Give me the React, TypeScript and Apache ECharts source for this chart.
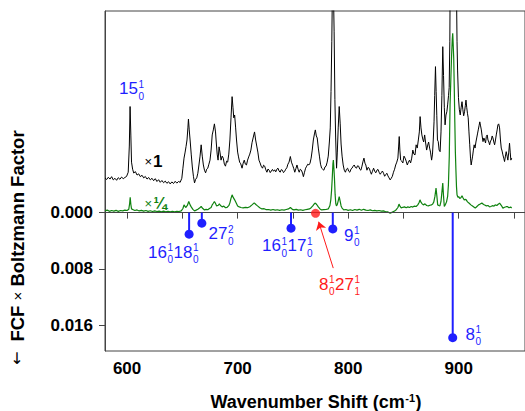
import React, { useEffect, useRef } from "react";
import * as echarts from "echarts";

// ---------- data ----------
const xTicks = [600, 650, 700, 750, 800, 850, 900, 950];
const xTickLabels = [600, 700, 800, 900];
const yTickLabels = [0, 0.008, 0.016];

// ×1 trace (relative intensity, arbitrary units)
const traceX1: [number, number][] = [
  [580, 17.2], [581.5, 16.4], [583, 17.5], [584.5, 16.6], [586, 17.8], [587.5, 16.2], [589, 17.0], [590.5, 16.0],
  [592, 17.3], [593.5, 16.5], [595, 17.6], [596.5, 16.8], [598, 17.4], [599.5, 17.9], [601, 20], [602, 33],
  [602.7, 52.6], [603.4, 38], [604, 25], [605, 21.5], [606, 19.6], [607.5, 20.3], [609, 18.6], [610.5, 19.2],
  [612, 17.8], [613.5, 18.5], [615, 17.2], [616.5, 17.9], [618, 16.6], [619.5, 17.4], [621, 16.2], [622.5, 17.0],
  [624, 15.8], [625.5, 16.8], [627, 15.4], [628.5, 16.3], [630, 15.0], [631.5, 15.9], [633, 14.8], [634.5, 15.6],
  [636, 14.5], [637.5, 15.3], [639, 14.2], [640.5, 15.2], [642, 14.4], [643.5, 15.5], [645, 14.6], [646.5, 15.4],
  [648, 15.0], [649.5, 17], [650.5, 22], [651.5, 27], [652.5, 30], [653.3, 32.7], [654.2, 36], [655, 42],
  [655.5, 46.4], [656.2, 41], [657, 36], [658, 29], [659, 22.6], [660, 18], [661, 14.7], [662, 16.5],
  [663, 17.2], [664, 19.5], [665, 23.6], [666, 28], [667, 33.6], [668, 28], [669, 23.6], [670, 21],
  [671, 19.7], [672, 21.5], [673, 22], [674, 24], [675, 26], [676, 31], [677, 38.5], [678, 41],
  [679, 44], [680, 40], [680.5, 36], [681.5, 29], [682.3, 26], [683.2, 32.6], [684, 30], [685, 26],
  [686, 28], [687, 27], [688, 24], [689, 23], [690, 25.5], [691, 25], [692, 29], [693, 36],
  [694, 47], [695, 57.5], [695.8, 52], [696.5, 47], [697.3, 48.4], [698.2, 42], [699, 36], [700, 30],
  [700.8, 27.6], [701.8, 25], [702.8, 24.2], [704, 22], [705, 24.5], [706, 26], [707, 24], [708, 23.6],
  [709, 26], [710, 27.6], [711, 29], [712, 31], [713, 34.6], [714, 37], [715.3, 40], [716.3, 36],
  [717.3, 33], [718.3, 30], [719.3, 26], [720.3, 24.6], [721.3, 23], [722.5, 22], [723.5, 23.5], [724.5, 23],
  [725.5, 21.2], [726.5, 20], [727.5, 21.6], [728.5, 21], [729.5, 19.8], [730.5, 20.6], [731.5, 21.4], [732.5, 20.5],
  [733.5, 21.2], [734.5, 20.2], [735.5, 21.5], [736.5, 22], [737.5, 20.6], [738.5, 20], [739.5, 21.3], [740.5, 21],
  [741.5, 19.8], [742.5, 20.4], [743.5, 21.5], [744.5, 22.2], [745.5, 24], [746.5, 25], [747.7, 27.8], [748.7, 25],
  [749.7, 23.5], [750.7, 22], [751.7, 20], [752.7, 21.8], [753.7, 23.6], [754.7, 21.5], [755.7, 20], [756.7, 21.5],
  [757.7, 21], [758.7, 19.6], [759.5, 17.8], [760.5, 20], [761.5, 22], [762.5, 23], [763.5, 24], [764.5, 23.6],
  [765.5, 24.5], [766.5, 27], [767.5, 31], [768.5, 36], [769.5, 39], [770.3, 41], [771.2, 38], [772, 37],
  [773, 32], [774, 28], [775, 24], [776, 22], [777, 21.5], [778, 21], [779, 22.6], [780, 23],
  [781, 25], [782, 28], [783, 35], [783.8, 42], [784.5, 60], [785.2, 85], [785.9, 118], [786.6, 112],
  [787.3, 90], [788, 56], [788.7, 37], [789.5, 22], [790.2, 30], [791, 42], [791.9, 52.6], [792.8, 44],
  [793.6, 34], [794.5, 28], [795.5, 23.6], [796.5, 21], [797.5, 20], [798.5, 21.5], [799.5, 22], [800.5, 20.5],
  [801.5, 20], [802.5, 21.5], [803.5, 22], [804.5, 23], [805.5, 23.6], [806.5, 22.4], [807.5, 22], [808.5, 23.2],
  [809.5, 23], [810.5, 21.5], [811.5, 21], [812.5, 23], [813.5, 25.5], [814.3, 27], [815.2, 24.5], [816, 23.6],
  [817, 21], [818, 22.4], [819, 22], [820, 20.5], [821, 19], [822, 20.5], [823, 22], [824, 20.5],
  [825, 19.7], [826, 21], [827, 21.4], [828, 20], [829, 19], [830, 19.8], [831, 20.6], [832, 19.5],
  [833, 18], [834, 18.8], [835, 19.5], [836, 18.2], [837, 17.2], [838, 16.2], [839, 17], [840, 18],
  [841, 20], [842, 21.5], [843, 23.6], [844, 25], [845, 27], [845.7, 33], [846.2, 37.7], [846.8, 31],
  [847.5, 26], [848.5, 25.5], [849.5, 24.6], [850.5, 28], [851.5, 27], [852.5, 25.5], [853.5, 23.6], [854.5, 25],
  [855.5, 26], [856.5, 24.6], [857.5, 27], [858.5, 31], [859.5, 29], [860.5, 28.6], [861.5, 33.6], [862.5, 32],
  [863.5, 36], [864.4, 40], [865.1, 47.6], [865.9, 42], [866.7, 38.5], [867.5, 36.5], [868.3, 35], [869.2, 38.5],
  [870, 35], [871, 31], [872, 33.5], [872.8, 35], [873.7, 32], [874.5, 30], [875.5, 26], [876.3, 29],
  [877, 36], [877.7, 45], [878.3, 58], [879, 72.4], [879.6, 60], [880.2, 48], [880.8, 36], [881.5, 35.2],
  [882.3, 31], [883.2, 30.2], [884, 40], [884.8, 58], [885.6, 82.3], [886.3, 68], [887, 52], [887.7, 43.5],
  [888.5, 48.4], [889.3, 50], [890, 53.4], [890.8, 58], [891.4, 62], [892, 85], [892.6, 150], [893.3, 250],
  [894, 340], [894.6, 370], [895.3, 345], [896, 280], [896.7, 200], [897.4, 150], [898, 110], [898.5, 85],
  [899, 70.7], [899.8, 57], [900.6, 51], [901.4, 48.4], [902.2, 52], [903, 55], [903.8, 51], [904.5, 48],
  [905.3, 50], [906, 53], [906.6, 55.8], [907.3, 52], [908, 49], [908.6, 47], [909.3, 40], [910, 33.6],
  [910.7, 27], [911.3, 23.6], [912, 26], [912.6, 28], [913.3, 31], [914, 33.6], [914.8, 32], [915.6, 35],
  [916.3, 37], [917, 39], [917.7, 41], [918.4, 43], [919.1, 45], [919.8, 43], [920.5, 41], [921.2, 38],
  [922, 35.2], [922.8, 37], [923.5, 36], [924.3, 34.5], [925, 37.7], [925.8, 38.5], [926.5, 36], [927.3, 35],
  [928, 33.6], [928.8, 35.5], [929.5, 36], [930.3, 38], [931, 37], [931.8, 35], [932.5, 33.6], [933.3, 36],
  [934, 38.5], [934.8, 41], [935.5, 43.5], [936.2, 44], [937, 42], [937.8, 36], [938.5, 32], [939.3, 30.5],
  [940, 28.6], [940.8, 27], [941.5, 25.3], [942.3, 28], [943, 30.2], [943.8, 28], [944.5, 26], [945.3, 30],
  [946, 34.4], [946.6, 30], [947.2, 26], [948, 27],
];

// ×¼ trace
const traceQuarter: [number, number][] = [
  [580, 0.8], [582, 1.2], [584, 0.6], [586, 1.0], [588, 0.7], [590, 1.1], [592, 0.6], [594, 1.0],
  [596, 0.8], [598, 1.2], [600, 1.0], [601.5, 1.6], [602.3, 4.5], [602.8, 7.6], [603.4, 4], [604, 1.8],
  [605.5, 1.4], [607, 1.0], [609, 1.3], [611, 0.8], [613, 1.1], [615, 0.7], [617, 1.0], [619, 0.6],
  [621, 0.9], [623, 0.5], [625, 0.8], [627, 0.5], [629, 0.7], [631, 0.4], [633, 0.7], [635, 0.4],
  [637, 0.6], [639, 0.3], [641, 0.6], [643, 0.4], [645, 0.6], [647, 0.5], [649, 0.8], [650.5, 2],
  [651.5, 3.8], [653, 2.5], [654.5, 3.5], [655.8, 5.5], [657, 3.8], [658, 2.8], [659.5, 1.6], [661, 0.8],
  [662.5, 1.2], [664, 1.6], [665.5, 2.2], [667, 3.0], [668.5, 2.0], [670, 1.3], [671.5, 1.6], [673, 1.4],
  [674.5, 2.0], [676, 2.5], [677, 3.8], [678, 4.6], [679, 5.5], [680, 4.5], [681, 3.3], [682.5, 3.6],
  [683.5, 4.3], [684.5, 3.5], [686, 2.8], [687.5, 3.2], [689, 2.4], [690.5, 2.6], [692, 3.4], [693, 4.8],
  [694, 7], [695, 8.8], [696, 7.5], [697.3, 6.3], [698.5, 5], [700, 3.3], [701.5, 2.8], [703, 2.5],
  [705, 2.3], [707, 2.6], [709, 2.4], [711, 2.9], [713, 3.8], [715, 4.8], [716.5, 4.0], [718, 3.3],
  [720, 2.4], [722, 1.8], [724, 1.9], [726, 1.4], [728, 1.5], [730, 1.2], [732, 1.5], [734, 1.2],
  [736, 1.4], [738, 1.1], [740, 1.4], [742, 1.2], [744, 1.5], [746, 1.8], [747.7, 2.5], [749.5, 1.6],
  [751, 1.3], [753, 1.6], [755, 1.2], [757, 1.4], [759, 1.1], [761, 1.4], [763, 1.6], [765, 1.8],
  [766.5, 2.4], [768, 3.3], [769.2, 4.2], [770.3, 4.7], [771.5, 4.0], [773, 2.8], [774.5, 1.8], [776, 1.3],
  [778, 1.4], [780, 1.5], [782, 1.8], [783.5, 3.5], [784.3, 6.3], [785, 11], [785.6, 17], [786.2, 24],
  [786.6, 26], [787.1, 22], [787.6, 17], [788.2, 9], [788.8, 4.5], [789.4, 3.3], [790.2, 4], [791, 5.8],
  [791.9, 7.9], [792.8, 5.5], [793.6, 3.3], [794.5, 2.2], [796, 1.3], [798, 1.5], [800, 1.1], [802, 1.4],
  [804, 1.0], [806, 1.5], [808, 1.2], [810, 1.6], [812, 1.1], [814, 1.6], [816, 1.2], [818, 1.0],
  [820, 1.3], [822, 0.9], [824, 1.1], [826, 0.8], [828, 1.0], [830, 0.7], [832, 0.8], [834, 0.4],
  [836, 0.3], [838, -0.3], [840, 0.2], [842, 0.8], [843.5, 1.4], [845, 2.5], [846, 4.2], [847, 3],
  [848, 2.3], [849.5, 2.6], [851, 2.8], [852.5, 2.4], [854, 2.8], [855.5, 2.5], [857, 3], [858.5, 2.7],
  [860, 3.2], [861.5, 3.0], [863, 3.8], [864.2, 5], [865, 6.3], [866, 5], [867, 4.3], [868, 3.8],
  [869.5, 4.3], [871, 3.5], [872.5, 3.3], [874, 3.6], [875.5, 3.8], [876.5, 4.2], [877.5, 5.3], [878.5, 8],
  [879.5, 12.1], [880.3, 8], [881, 3.8], [882, 3.5], [883, 3.3], [884, 5.5], [884.8, 10], [885.6, 14.6],
  [886.3, 8], [887, 3], [888, 4], [889, 5.3], [890, 8], [890.7, 13.7], [891.5, 28], [892.2, 53.4],
  [893, 68], [893.6, 78], [894.2, 86], [894.6, 89], [895, 84], [895.5, 76.7], [896, 62], [896.5, 45],
  [897, 30], [897.5, 21], [898, 13], [898.5, 8.8], [899.3, 7.6], [900, 7.9], [901, 7.0], [902, 7.3],
  [903, 8.3], [904, 7.2], [905, 6.3], [906.5, 6.5], [908, 5.3], [909.5, 4.6], [911, 3.8], [912.5, 3.2],
  [914, 2.6], [915, 2.2], [916.5, 3], [918, 3.8], [919.5, 4.2], [921, 4.7], [922.5, 4], [924, 3.6],
  [925, 3.3], [926.5, 3.5], [928, 2.8], [929, 3.0], [930.5, 3.4], [932, 3.2], [933, 3.8], [934.5, 3.5],
  [936, 4.2], [937, 4.7], [938.5, 3.6], [940, 2.2], [941.5, 2.6], [943, 2.9], [944, 3], [945.5, 2.4],
  [947, 2.7], [948, 2.3],
];

// Stick spectrum: FCF × Boltzmann factor
const stickWavenumbers = [656.1, 667.6, 748.3, 786.1, 894.6];
const stickFCF = [0.00307, 0.00151, 0.00222, 0.00232, 0.0178];
const hotBandWavenumbers = [770.5];
const hotBandFCF = [0.0001];

// Assignment labels: [base, superscript, subscript]
const labelTexts: [string, string, string][][] = [
  [["15", "1", "0"]],
  [["16", "1", "0"], ["18", "1", "0"]],
  [["27", "2", "0"]],
  [["16", "1", "0"], ["17", "1", "0"]],
  [["9", "1", "0"]],
  [["8", "1", "0"], ["27", "1", "1"]],
  [["8", "1", "0"]],
];

// ---------- layout / style ----------
const FONT = "'Liberation Sans', Arial, Helvetica, sans-serif";
const BLUE = "#1f1fff";
const RED = "#ff1a1a";
const GREEN = "#0f820f";
const AXIS = "#444";

const labelPlaces = [
  { x: 119, y: 94.5, color: BLUE },
  { x: 148, y: 258, color: BLUE },
  { x: 208.5, y: 239.5, color: BLUE },
  { x: 262, y: 251.5, color: BLUE },
  { x: 344, y: 241, color: BLUE },
  { x: 319, y: 290, color: RED },
  { x: 465.5, y: 340, color: BLUE },
];

let measureCtx: CanvasRenderingContext2D | null = null;
function measure(text: string, size: number, weight: string, family = FONT) {
  if (!measureCtx) measureCtx = document.createElement("canvas").getContext("2d");
  measureCtx!.font = `${weight} ${size}px ${family}`;
  return measureCtx!.measureText(text).width;
}

function txt(
  text: string,
  x: number,
  y: number,
  size: number,
  color: string,
  weight = "normal",
  align = "left",
  lineHeight?: number,
  family = FONT
) {
  const style: any = {
    text,
    fill: color,
    fontSize: size,
    fontWeight: weight,
    fontFamily: family,
    align,
    verticalAlign: "middle",
  };
  if (lineHeight) style.lineHeight = lineHeight;
  return { type: "text", x, y, silent: true, style };
}

// Baseline-based placement (middle ≈ baseline − 0.347em)
function scripted(parts: [string, string, string][], x0: number, baseline: number, color: string, size = 17, small = 10) {
  const els: any[] = [];
  let cx = x0;
  for (const [base, sup, sub] of parts) {
    els.push(txt(base, cx, baseline - 0.347 * size, size, color, "normal", "left", size));
    cx += measure(base, size, "normal") + 0.5;
    const supTop = baseline - 0.716 * size - 2;
    const supMid = supTop + 0.716 * small - 0.347 * small;
    const subMid = baseline + 5 - 0.347 * small;
    els.push(txt(sup, cx, supMid, small, color, "normal", "left", small));
    els.push(txt(sub, cx, subMid, small, color, "normal", "left", small));
    cx += Math.max(measure(sup, small, "normal"), measure(sub, small, "normal")) + 0.5;
  }
  return els;
}

export default function App() {
  const ref = useRef<HTMLDivElement>(null);

  useEffect(() => {
    if (!ref.current) return;
    const chart = echarts.init(ref.current, undefined, { renderer: "svg" });

    const graphics: any[] = [];
    labelTexts.forEach((parts, i) => {
      const p = labelPlaces[i];
      graphics.push(...scripted(parts, p.x, p.y, p.color));
    });

    // ×1 and ×¼ markers
    graphics.push(txt("×", 144.5, 161.5, 13, "#000"));
    graphics.push(txt("1", 153, 161.5, 17, "#000", "bold"));
    graphics.push(txt("×", 144.5, 203, 13, GREEN));
    graphics.push(txt("¼", 153.5, 203, 16, GREEN, "bold"));

    // x-axis title with superscript
    const tSize = 18;
    const tA = "Wavenumber Shift (cm";
    const tSup = "-1";
    const tB = ")";
    const supSize = 11;
    const wA = measure(tA, tSize, "bold");
    const wS = measure(tSup, supSize, "bold");
    const wB = measure(tB, tSize, "bold");
    const total = wA + wS + wB + 1;
    const tx0 = 316 - total / 2;
    const tBase = 408;
    graphics.push(txt(tA, tx0, tBase - 0.347 * tSize, tSize, "#000", "bold", "left", tSize));
    const capTop = tBase - 0.716 * tSize;
    graphics.push(
      txt(tSup, tx0 + wA + 0.5, capTop - 1 + 0.716 * supSize - 0.347 * supSize, supSize, "#000", "bold", "left", 8)
    );
    graphics.push(txt(tB, tx0 + wA + wS + 1, tBase - 0.347 * tSize, tSize, "#000", "bold", "left", tSize));

    // y-axis title (rotated) + arrow
    const ySize = 18.5;
    const yParts: [string, string, number][] = [
      ["FCF ", "bold", ySize],
      ["×", "normal", 15],
      [" Boltzmann Factor", "bold", ySize],
    ];
    const yWidths = yParts.map(([t, w, s]) => measure(t, s, w));
    const yTotal = yWidths.reduce((a, b) => a + b, 0);
    let yx = -yTotal / 2;
    const yChildren: any[] = [];
    yParts.forEach(([t, w, s], i) => {
      yChildren.push(txt(t, yx, 0, s, "#000", w));
      yx += yWidths[i];
    });
    graphics.push({ type: "group", x: 17, y: 236, rotation: Math.PI / 2, silent: true, children: yChildren });
    graphics.push(txt("↓", 17, 358, 16, "#000", "normal", "center", 16, "'DejaVu Sans', sans-serif"));

    chart.setOption({
      animation: false,
      grid: {
        left: 105,
        right: -2,
        top: 11,
        bottom: 60,
        show: true,
        borderColor: AXIS,
        borderWidth: 1,
        backgroundColor: "transparent",
      },
      xAxis: {
        type: "value",
        min: 580,
        max: 960,
        axisLine: { show: true, lineStyle: { color: AXIS, width: 1 } },
        axisTick: { show: true, inside: false, length: 6, customValues: xTicks, lineStyle: { color: AXIS } },
        axisLabel: {
          customValues: xTickLabels,
          margin: 9,
          color: "#000",
          fontSize: 17,
          fontWeight: "bold",
          fontFamily: FONT,
        },
        splitLine: { show: false },
      },
      yAxis: [
        {
          type: "value",
          inverse: true,
          min: -0.0287,
          max: 0.0197,
          axisLine: { show: true, lineStyle: { color: AXIS, width: 1 } },
          axisTick: { show: true, inside: false, length: 6, customValues: yTickLabels, lineStyle: { color: AXIS } },
          axisLabel: {
            customValues: yTickLabels,
            formatter: (v: number) => v.toFixed(3),
            margin: 12,
            color: "#000",
            fontSize: 17,
            fontWeight: "bold",
            fontFamily: FONT,
          },
          splitLine: { show: false },
        },
        {
          type: "value",
          min: -68.7,
          max: 100,
          show: false,
          splitLine: { show: false },
        },
      ],
      series: [
        {
          type: "line",
          name: "×1",
          xAxisIndex: 0,
          yAxisIndex: 1,
          data: traceX1,
          showSymbol: false,
          symbol: "none",
          clip: true,
          lineStyle: { color: "#000", width: 1 },
          z: 2,
        },
        {
          type: "line",
          name: "×1/4",
          xAxisIndex: 0,
          yAxisIndex: 1,
          data: traceQuarter,
          showSymbol: false,
          symbol: "none",
          clip: true,
          lineStyle: { color: GREEN, width: 1.2 },
          z: 3,
          markLine: {
            silent: true,
            symbol: ["none", "none"],
            label: { show: false },
            lineStyle: { color: AXIS, width: 1, type: "solid" },
            data: [{ yAxis: 0 }],
          },
        },
        {
          type: "custom",
          name: "FCF",
          xAxisIndex: 0,
          yAxisIndex: 0,
          data: stickWavenumbers.map((w, i) => [w, stickFCF[i]]),
          z: 5,
          renderItem: (_params: any, api: any) => {
            const base = api.coord([api.value(0), 0]);
            const tip = api.coord([api.value(0), api.value(1)]);
            return {
              type: "group",
              children: [
                {
                  type: "line",
                  shape: { x1: base[0], y1: base[1], x2: tip[0], y2: tip[1] },
                  style: { stroke: BLUE, lineWidth: 2 },
                },
                {
                  type: "circle",
                  shape: { cx: tip[0], cy: tip[1], r: 4.5 },
                  style: { fill: BLUE },
                },
              ],
            };
          },
        },
        {
          type: "scatter",
          name: "hot band",
          xAxisIndex: 0,
          yAxisIndex: 0,
          data: hotBandWavenumbers.map((w, i) => [w, hotBandFCF[i]]),
          symbolSize: 9,
          itemStyle: { color: RED },
          z: 6,
          markLine: {
            silent: true,
            symbol: ["none", "arrow"],
            symbolSize: 8,
            label: { show: false },
            lineStyle: { color: RED, width: 1, type: "solid" },
            data: [[{ coord: [786.5, 0.0079] }, { coord: [773.3, 0.0013] }]],
          },
        },
      ],
      graphic: graphics,
    });

    return () => chart.dispose();
  }, []);

  return (
    <div
      ref={ref}
      style={{ position: "absolute", left: 0, top: 0, width: 525, height: 411 }}
    />
  );
}
